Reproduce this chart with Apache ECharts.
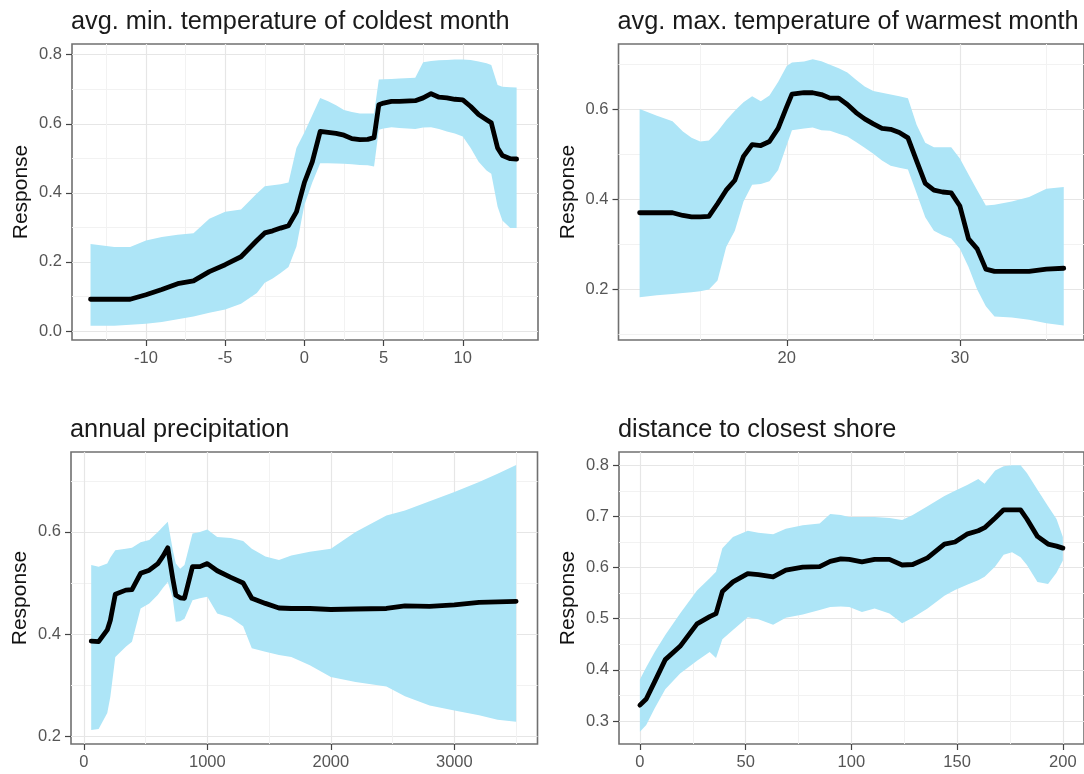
<!DOCTYPE html>
<html>
<head>
<meta charset="utf-8">
<script src="https://cdn.jsdelivr.net/npm/echarts@6/dist/echarts.min.js"></script>
<style>
  html, body { margin: 0; padding: 0; background: #ffffff; }
  #chart { width: 1084px; height: 774px; }
</style>
</head>
<body>
<div id="chart"></div>
<script>
// ---- avg. min. temperature of coldest month ----
const coldX = [-13.5, -12, -11, -10, -9, -8, -7, -6, -5, -4, -3, -2.5, -2, -1.5, -1, -0.5, 0, 0.5, 1, 1.5, 2, 2.5, 3, 3.5, 4, 4.4, 4.7, 5, 5.5, 6, 7, 7.5, 8, 8.5, 9, 9.5, 10, 10.5, 11, 11.5, 11.8, 12.2, 12.5, 13, 13.4];
const coldFit = [0.092, 0.092, 0.092, 0.105, 0.120, 0.137, 0.145, 0.172, 0.192, 0.215, 0.262, 0.284, 0.290, 0.298, 0.305, 0.345, 0.430, 0.490, 0.578, 0.575, 0.572, 0.567, 0.557, 0.554, 0.555, 0.560, 0.655, 0.660, 0.665, 0.665, 0.667, 0.675, 0.687, 0.677, 0.675, 0.671, 0.669, 0.650, 0.627, 0.612, 0.603, 0.530, 0.508, 0.499, 0.498];
const coldUpper = [0.252, 0.243, 0.243, 0.262, 0.272, 0.279, 0.283, 0.325, 0.345, 0.352, 0.398, 0.419, 0.422, 0.425, 0.430, 0.530, 0.575, 0.625, 0.675, 0.665, 0.654, 0.640, 0.634, 0.630, 0.630, 0.630, 0.728, 0.729, 0.730, 0.731, 0.733, 0.778, 0.782, 0.784, 0.785, 0.786, 0.786, 0.785, 0.780, 0.775, 0.770, 0.712, 0.707, 0.706, 0.705];
const coldLower = [0.015, 0.015, 0.018, 0.021, 0.026, 0.034, 0.042, 0.053, 0.062, 0.079, 0.110, 0.140, 0.152, 0.168, 0.185, 0.245, 0.365, 0.430, 0.486, 0.486, 0.485, 0.484, 0.483, 0.481, 0.480, 0.476, 0.583, 0.586, 0.590, 0.588, 0.585, 0.589, 0.590, 0.585, 0.578, 0.572, 0.563, 0.530, 0.490, 0.465, 0.455, 0.360, 0.320, 0.298, 0.298];

// ---- avg. max. temperature of warmest month ----
const warmX = [11.5, 12.5, 13.4, 14, 14.5, 15, 15.5, 16, 16.5, 17, 17.5, 18, 18.5, 19, 19.5, 20, 20.3, 21, 21.5, 22, 22.5, 23, 23.5, 24, 24.5, 25, 25.5, 26, 26.5, 27, 27.5, 28, 28.5, 29, 29.5, 30, 30.5, 31, 31.5, 32, 33, 34, 35, 36];
const warmFit = [0.370, 0.370, 0.370, 0.364, 0.361, 0.361, 0.362, 0.390, 0.420, 0.442, 0.495, 0.521, 0.519, 0.528, 0.557, 0.605, 0.633, 0.636, 0.636, 0.632, 0.624, 0.624, 0.610, 0.592, 0.578, 0.567, 0.557, 0.555, 0.548, 0.536, 0.485, 0.435, 0.420, 0.416, 0.414, 0.385, 0.312, 0.290, 0.245, 0.240, 0.240, 0.240, 0.245, 0.247];
const warmUpper = [0.600, 0.585, 0.573, 0.550, 0.536, 0.528, 0.530, 0.550, 0.575, 0.596, 0.615, 0.628, 0.617, 0.630, 0.660, 0.695, 0.703, 0.705, 0.710, 0.706, 0.698, 0.690, 0.681, 0.665, 0.650, 0.640, 0.636, 0.632, 0.628, 0.624, 0.565, 0.525, 0.515, 0.515, 0.515, 0.490, 0.455, 0.420, 0.386, 0.388, 0.395, 0.405, 0.423, 0.427];
const warmLower = [0.183, 0.187, 0.190, 0.192, 0.194, 0.196, 0.200, 0.220, 0.294, 0.330, 0.395, 0.432, 0.434, 0.440, 0.465, 0.520, 0.553, 0.557, 0.559, 0.553, 0.552, 0.545, 0.539, 0.527, 0.514, 0.501, 0.486, 0.474, 0.470, 0.466, 0.413, 0.360, 0.330, 0.320, 0.313, 0.290, 0.250, 0.200, 0.163, 0.140, 0.138, 0.133, 0.125, 0.120];

// ---- annual precipitation ----
const precX = [60, 120, 190, 215, 255, 340, 390, 460, 530, 600, 640, 680, 720, 745, 780, 815, 880, 940, 1000, 1080, 1190, 1290, 1360, 1470, 1580, 1680, 1830, 2000, 2200, 2450, 2600, 2800, 3000, 3200, 3350, 3500];
const precFit = [0.386, 0.385, 0.408, 0.427, 0.478, 0.486, 0.487, 0.519, 0.525, 0.538, 0.552, 0.569, 0.509, 0.476, 0.471, 0.470, 0.532, 0.532, 0.538, 0.524, 0.511, 0.500, 0.470, 0.460, 0.451, 0.450, 0.450, 0.448, 0.449, 0.450, 0.455, 0.454, 0.457, 0.462, 0.463, 0.464];
const precUpper = [0.535, 0.532, 0.538, 0.550, 0.564, 0.567, 0.569, 0.580, 0.584, 0.600, 0.610, 0.620, 0.565, 0.538, 0.528, 0.535, 0.597, 0.600, 0.605, 0.590, 0.588, 0.582, 0.567, 0.552, 0.545, 0.554, 0.561, 0.567, 0.600, 0.632, 0.642, 0.660, 0.678, 0.698, 0.714, 0.731];
const precLower = [0.212, 0.214, 0.245, 0.277, 0.355, 0.375, 0.385, 0.450, 0.460, 0.477, 0.490, 0.502, 0.470, 0.424, 0.425, 0.430, 0.466, 0.470, 0.473, 0.440, 0.432, 0.415, 0.372, 0.365, 0.359, 0.355, 0.339, 0.316, 0.306, 0.297, 0.278, 0.260, 0.250, 0.241, 0.232, 0.228];

// ---- distance to closest shore ----
const shoreX = [0, 3, 7, 12, 19, 27, 33, 36, 39, 44, 51, 56, 63, 69, 77, 85, 90, 95, 99, 105, 111, 118, 124, 129, 136, 144, 149, 155, 160, 163, 168, 172, 176, 180, 183, 188, 193, 197, 200];
const shoreFit = [0.331, 0.343, 0.377, 0.420, 0.446, 0.490, 0.504, 0.510, 0.553, 0.572, 0.588, 0.586, 0.582, 0.595, 0.601, 0.602, 0.612, 0.617, 0.616, 0.611, 0.616, 0.616, 0.605, 0.606, 0.619, 0.646, 0.650, 0.666, 0.672, 0.678, 0.697, 0.713, 0.713, 0.713, 0.695, 0.661, 0.646, 0.642, 0.638];
const shoreUpper = [0.381, 0.405, 0.435, 0.468, 0.510, 0.555, 0.579, 0.592, 0.638, 0.660, 0.672, 0.668, 0.665, 0.676, 0.683, 0.686, 0.705, 0.703, 0.699, 0.699, 0.699, 0.697, 0.693, 0.703, 0.720, 0.740, 0.750, 0.762, 0.773, 0.764, 0.790, 0.798, 0.800, 0.800, 0.785, 0.752, 0.720, 0.695, 0.660];
const shoreLower = [0.279, 0.292, 0.325, 0.362, 0.393, 0.418, 0.435, 0.423, 0.460, 0.478, 0.503, 0.499, 0.488, 0.502, 0.508, 0.517, 0.523, 0.524, 0.523, 0.513, 0.520, 0.510, 0.491, 0.502, 0.520, 0.545, 0.556, 0.567, 0.575, 0.582, 0.602, 0.625, 0.630, 0.620, 0.605, 0.572, 0.568, 0.590, 0.614];

// ---- panel titles and axis breaks ----
const titles = [
  'avg. min. temperature of coldest month',
  'avg. max. temperature of warmest month',
  'annual precipitation',
  'distance to closest shore'
];
const coldXBreaks = [-10, -5, 0, 5, 10];
const coldXMinor = [-12.5, -7.5, -2.5, 2.5, 7.5, 12.5];
const coldYBreaks = [0, 0.2, 0.4, 0.6, 0.8];
const coldYMinor = [0.1, 0.3, 0.5, 0.7];
const warmXBreaks = [20, 30];
const warmXMinor = [15, 25, 35];
const warmYBreaks = [0.2, 0.4, 0.6];
const warmYMinor = [0.1, 0.3, 0.5, 0.7];
const precXBreaks = [0, 1000, 2000, 3000];
const precXMinor = [500, 1500, 2500, 3500];
const precYBreaks = [0.2, 0.4, 0.6];
const precYMinor = [0.3, 0.5, 0.7];
const shoreXBreaks = [0, 50, 100, 150, 200];
const shoreXMinor = [25, 75, 125, 175];
const shoreYBreaks = [0.3, 0.4, 0.5, 0.6, 0.7, 0.8];
const shoreYMinor = [0.35, 0.45, 0.55, 0.65, 0.75];

const FONT = 'Liberation Sans, Arial, Helvetica, sans-serif';
const BAND = '#ade5f7';
const oneDecimal = v => v.toFixed(1);
const plain = v => String(v);

const panels = [
  { x: coldX, fit: coldFit, up: coldUpper, lo: coldLower,
    xr: [-14.67, 14.75], yr: [-0.026, 0.831],
    xb: coldXBreaks, xm: coldXMinor, yb: coldYBreaks, ym: coldYMinor,
    box: { left: 72, top: 44, width: 466, height: 296 } },
  { x: warmX, fit: warmFit, up: warmUpper, lo: warmLower,
    xr: [10.28, 37.17], yr: [0.088, 0.744],
    xb: warmXBreaks, xm: warmXMinor, yb: warmYBreaks, ym: warmYMinor,
    box: { left: 618.5, top: 44, width: 468, height: 296 } },
  { x: precX, fit: precFit, up: precUpper, lo: precLower,
    xr: [-103.6, 3673], yr: [0.1845, 0.7566],
    xb: precXBreaks, xm: precXMinor, yb: precYBreaks, ym: precYMinor,
    box: { left: 71, top: 452, width: 466.5, height: 292 } },
  { x: shoreX, fit: shoreFit, up: shoreUpper, lo: shoreLower,
    xr: [-9.88, 210], yr: [0.255, 0.826],
    xb: shoreXBreaks, xm: shoreXMinor, yb: shoreYBreaks, ym: shoreYMinor,
    box: { left: 619, top: 452, width: 467.5, height: 292 } }
];

const grid = [], xAxis = [], yAxis = [], series = [], title = [];

panels.forEach((p, i) => {
  grid.push(Object.assign({
    show: true, backgroundColor: 'transparent',
    borderColor: '#707070', borderWidth: 1.6, containLabel: false
  }, p.box));

  title.push({
    text: titles[i], left: p.box.left - 1, top: p.box.top - 34, padding: 0,
    textStyle: { fontFamily: FONT, fontSize: 25.3, fontWeight: 'normal', color: '#1a1a1a' }
  });

  // main x axis: ticks, labels and major grid
  xAxis.push({
    type: 'value', gridIndex: i, min: p.xr[0], max: p.xr[1], position: 'bottom',
    axisLine: { show: false, onZero: false },
    axisTick: { show: true, length: 6, customValues: p.xb, lineStyle: { color: '#444', width: 1.2 } },
    axisLabel: { customValues: p.xb, margin: 10, fontFamily: FONT, fontSize: 16.5, color: '#555', formatter: plain },
    splitLine: { show: true, lineStyle: { color: '#e6e6e6', width: 1.2 } }
  });
  // companion x axis: minor grid only
  xAxis.push({
    type: 'value', gridIndex: i, min: p.xr[0], max: p.xr[1], position: 'bottom',
    axisLine: { show: false, onZero: false },
    axisTick: { show: false, customValues: p.xm },
    axisLabel: { show: false, customValues: p.xm },
    splitLine: { show: true, lineStyle: { color: '#f2f2f2', width: 1 } }
  });

  yAxis.push({
    type: 'value', gridIndex: i, min: p.yr[0], max: p.yr[1], position: 'left',
    name: 'Response', nameLocation: 'middle', nameGap: 40, nameRotate: 90,
    nameTextStyle: { fontFamily: FONT, fontSize: 21, color: '#111' },
    axisLine: { show: false, onZero: false },
    axisTick: { show: true, length: 6, customValues: p.yb, lineStyle: { color: '#444', width: 1.2 } },
    axisLabel: { customValues: p.yb, margin: 10, fontFamily: FONT, fontSize: 16.5, color: '#555', formatter: oneDecimal },
    splitLine: { show: true, lineStyle: { color: '#e6e6e6', width: 1.2 } }
  });
  yAxis.push({
    type: 'value', gridIndex: i, min: p.yr[0], max: p.yr[1], position: 'left',
    axisLine: { show: false, onZero: false },
    axisTick: { show: false, customValues: p.ym },
    axisLabel: { show: false, customValues: p.ym },
    splitLine: { show: true, lineStyle: { color: '#f2f2f2', width: 1 } }
  });

  const xi = 2 * i, yi = 2 * i;
  // confidence band: one polygon along the upper bound and back along the lower bound
  series.push({
    type: 'custom', xAxisIndex: xi, yAxisIndex: yi, silent: true, z: 2,
    data: p.x.map((x, k) => [x, p.lo[k], p.up[k]]),
    encode: { x: 0, y: [1, 2] },
    renderItem: (params, api) => {
      if (params.dataIndex !== 0) return null;
      const top = p.x.map((x, k) => api.coord([x, p.up[k]]));
      const bottom = p.x.map((x, k) => api.coord([x, p.lo[k]])).reverse();
      return {
        type: 'polygon',
        shape: { points: top.concat(bottom) },
        style: { fill: BAND, stroke: null }
      };
    }
  });
  // fitted response
  series.push({
    type: 'line', xAxisIndex: xi, yAxisIndex: yi,
    data: p.x.map((x, k) => [x, p.fit[k]]),
    symbol: 'none', silent: true,
    lineStyle: { color: '#000', width: 4.8, join: 'round', cap: 'round' }, z: 3
  });
});

const chart = echarts.init(document.getElementById('chart'), null, { renderer: 'canvas' });
chart.setOption({
  animation: false,
  backgroundColor: '#ffffff',
  title: title,
  grid: grid,
  xAxis: xAxis,
  yAxis: yAxis,
  series: series
});
</script>
</body>
</html>
